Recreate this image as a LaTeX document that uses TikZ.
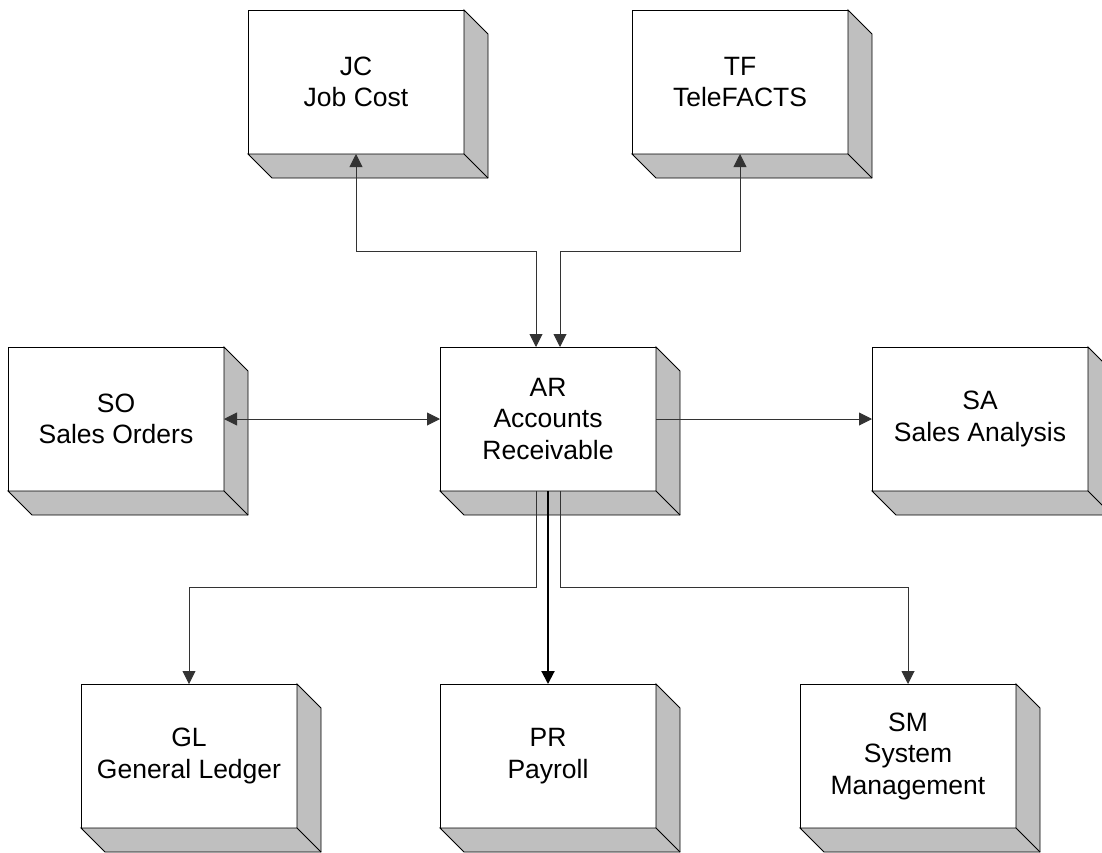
\documentclass[tikz,border=0pt]{standalone}
\usepackage{fontspec}
\setmainfont{Liberation Sans}
\usetikzlibrary{arrows.meta}
\begin{document}
\begin{tikzpicture}[x=1pt,y=-1pt,
  modbox/.style={draw=black, fill=white, line width=0.9pt, minimum width=216pt, minimum height=144pt,
    inner sep=0pt, outer sep=0pt, anchor=north west, align=center,
    font=\fontsize{26.5}{31.5}\selectfont},
  bevel/.style={draw=black, fill=black!25, line width=0.9pt, line join=miter},
  conn/.style={draw=black!80, line width=0.9pt, >={Triangle[length=13pt,width=13pt]}, line join=miter},
  thickconn/.style={conn, draw=black, line width=2pt}]
\useasboundingbox (0,0) rectangle (1102,852);
\clip (0,0) rectangle (1102,852);

\node[modbox] (JC) at (248,10) {JC\\Job Cost};
\node[modbox] (TF) at (632,10) {TF\\TeleFACTS};
\node[modbox] (SO) at (8,347) {SO\\Sales Orders};
\node[modbox] (AR) at (440,347) {AR\\Accounts\\Receivable};
\node[modbox] (SA) at (872,347) {SA\\Sales Analysis};
\node[modbox] (GL) at (81,684) {GL\\General Ledger};
\node[modbox] (PR) at (440,684) {PR\\Payroll};
\node[modbox] (SM) at (800,684) {SM\\System\\Management};

\foreach \n in {JC,TF,SO,AR,SA,GL,PR,SM}{
  \draw[bevel] (\n.south west) -- ++(24,24) -| ([shift={(24,24)}]\n.north east) -- (\n.north east) -- (\n.south east) -- cycle;
  \draw[bevel] (\n.south east) -- ++(24,24);
}

\coordinate (arN1) at ([xshift=-12pt]AR.north);
\coordinate (arN2) at ([xshift=12pt]AR.north);
\coordinate (arS1) at ([xshift=-12pt]AR.south);
\coordinate (arS2) at ([xshift=12pt]AR.south);

\draw[conn,<->] (arN1) -- ++(0,-96) -| (JC.south);
\draw[conn,<->] (arN2) -- ++(0,-96) -| (TF.south);
\draw[conn,<->] (SO.east) -- (AR.west);
\draw[conn,->] (AR.east) -- (SA.west);
\draw[conn,->] (arS1) -- ++(0,96) -| (GL.north);
\draw[thickconn,->] (AR.south) -- (PR.north);
\draw[conn,->] (arS2) -- ++(0,96) -| (SM.north);
\end{tikzpicture}
\end{document}
